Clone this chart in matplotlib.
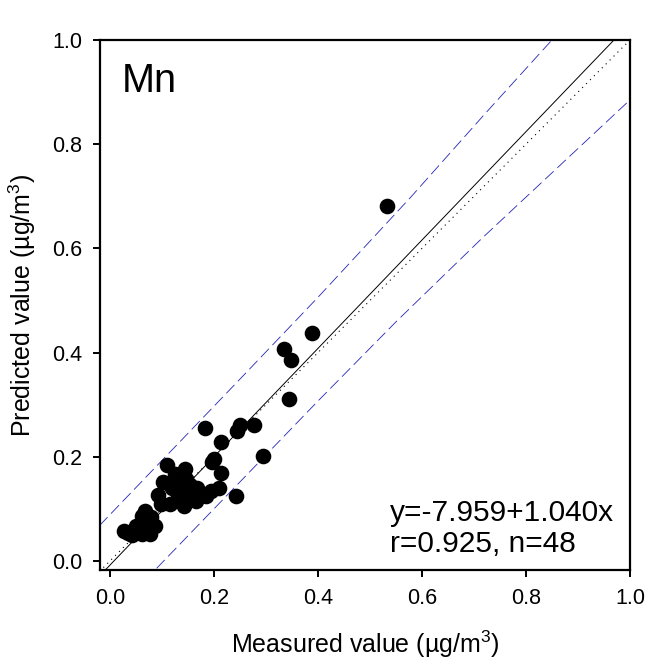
import matplotlib
matplotlib.use("Agg")
import matplotlib.pyplot as plt

plt.rcParams["font.family"] = ["Liberation Sans", "DejaVu Sans"]
plt.rcParams["mathtext.fontset"] = "custom"
plt.rcParams["mathtext.rm"] = "Liberation Sans"
plt.rcParams["mathtext.default"] = "regular"

# measured vs predicted Mn (ug/m3)
measured = [0.533, 0.388, 0.335, 0.348, 0.344, 0.182, 0.251, 0.245, 0.278, 0.213,
            0.294, 0.197, 0.214, 0.243, 0.209, 0.195, 0.175, 0.166, 0.144, 0.147,
            0.154, 0.143, 0.143, 0.109, 0.125, 0.103, 0.093, 0.115, 0.098, 0.068,
            0.080, 0.061, 0.080, 0.077, 0.051, 0.042, 0.027, 0.061, 0.087, 0.135,
            0.157, 0.120, 0.200, 0.185, 0.070, 0.035, 0.130, 0.167]
predicted = [0.682, 0.437, 0.407, 0.386, 0.310, 0.256, 0.261, 0.250, 0.261, 0.229,
             0.202, 0.190, 0.169, 0.125, 0.141, 0.135, 0.128, 0.115, 0.176, 0.158,
             0.146, 0.132, 0.106, 0.184, 0.167, 0.152, 0.127, 0.109, 0.110, 0.096,
             0.085, 0.087, 0.068, 0.052, 0.068, 0.050, 0.057, 0.052, 0.068, 0.150,
             0.125, 0.140, 0.195, 0.125, 0.075, 0.053, 0.118, 0.140]

# fitted line (slope from the equation, intercept)
reg_intercept = -0.008
reg_slope = 1.040
line_x = [-0.02, 1.0]

# 95% prediction band
upper_x = [-0.02, 0.25, 0.40, 0.58, 0.72, 0.85, 0.95]
upper_y = [0.068, 0.349, 0.506, 0.700, 0.857, 1.000, 1.110]
lower_x = [0.065, 0.085, 0.40, 0.55, 0.716, 1.0]
lower_y = [-0.034, -0.019, 0.307, 0.459, 0.620, 0.885]

fig = plt.figure(figsize=(6.71, 6.65), dpi=100)
ax = fig.add_axes([0.149, 0.143, 0.790, 0.797])

ax.plot(line_x, line_x, color="black", linestyle=(0, (1, 4)), linewidth=0.8)
ax.plot(line_x, [reg_intercept + reg_slope * v for v in line_x], color="black", linewidth=0.7)
ax.plot(upper_x, upper_y, color="#2424b8", linestyle=(0, (14, 6)), linewidth=0.6)
ax.plot(lower_x, lower_y, color="#2424b8", linestyle=(0, (14, 6)), linewidth=0.6)
ax.scatter(measured, predicted, s=105, color="black", zorder=3)

ax.set_xlim(-0.019, 1.0)
ax.set_ylim(-0.017, 1.0)
ax.set_xticks([0.0, 0.2, 0.4, 0.6, 0.8, 1.0])
ax.set_yticks([0.0, 0.2, 0.4, 0.6, 0.8, 1.0])
ax.set_xticklabels(["0.0", "0.2", "0.4", "0.6", "0.8", "1.0"])
ax.set_yticklabels(["0.0", "0.2", "0.4", "0.6", "0.8", "1.0"])
ax.tick_params(direction="out", length=5, width=1.4, labelsize=15.5, pad=8)
for s in ax.spines.values():
    s.set_linewidth(1.6)

ax.set_xlabel("Measured value (µg/m$^3$)", fontsize=18, labelpad=14)
ax.set_ylabel("Predicted value (µg/m$^3$)", fontsize=18, labelpad=10)

ax.text(0.042, 0.902, "Mn", transform=ax.transAxes, fontsize=28.5, va="baseline")
ax.text(0.547, 0.0925, "y=-7.959+1.040x", transform=ax.transAxes, fontsize=21.5, va="baseline")
ax.text(0.547, 0.034, "r=0.925, n=48", transform=ax.transAxes, fontsize=21.5, va="baseline")

fig.savefig("out.png", dpi=100)
